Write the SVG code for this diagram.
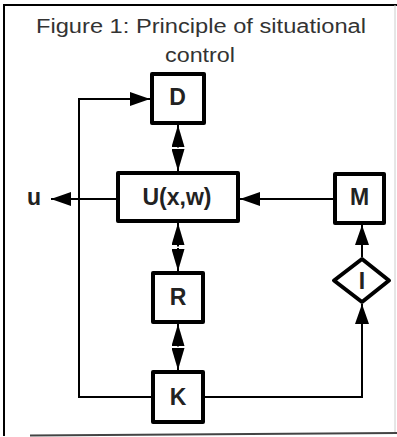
<svg xmlns="http://www.w3.org/2000/svg" width="397" height="437" viewBox="0 0 397 437">
<defs>
<style>
.box{fill:#fff;stroke:#000;stroke-width:4;stroke-linejoin:round}
.lbl{font-family:"Liberation Sans",Arial,sans-serif;font-weight:bold;font-size:23px;fill:#222;text-anchor:middle}
.title{font-family:"Liberation Sans",Arial,sans-serif;font-size:20px;fill:#333;text-anchor:middle}
.ln{fill:none;stroke:#000;stroke-width:2}
.ar{marker-end:url(#ah)}
.dbl{fill:none;stroke:#000;stroke-width:2;marker-end:url(#dh)}
</style>
<marker id="ah" viewBox="0 0 20 14" refX="20" refY="7" markerWidth="20" markerHeight="14" markerUnits="userSpaceOnUse" orient="auto">
<path d="M0,0 L20,7 L0,14 z" fill="#000"/>
</marker>
<marker id="dh" viewBox="0 0 22 13" refX="22" refY="6.5" markerWidth="22" markerHeight="13" markerUnits="userSpaceOnUse" orient="auto">
<path d="M0,0 L22,6.5 L0,13 z" fill="#000"/>
</marker>
</defs>
<rect x="0" y="0" width="397" height="437" fill="#fff"/>
<g id="frame">
<path d="M4,436 L4,5 L397,5" fill="none" stroke="#000" stroke-width="2"/>
<line x1="395" y1="5" x2="395" y2="433" stroke="#ccc" stroke-width="1"/>
<line x1="30" y1="435.5" x2="397" y2="433" stroke="#444" stroke-width="2"/>
</g>
<g id="title">
<text class="title" x="201" y="33" textLength="330" lengthAdjust="spacingAndGlyphs">Figure 1: Principle of situational</text>
<text class="title" x="200" y="62" textLength="70" lengthAdjust="spacingAndGlyphs">control</text>
</g>
<g id="connectors">
<path class="ln ar" d="M152,397 L79,397 L79,99 L150,99"/>
<path class="ln ar" d="M116,199 L51,199"/>
<path class="ln ar" d="M333,199 L240,199"/>
<path class="ln ar" d="M204,397 L362,397 L362,304"/>
<path class="ln ar" d="M362,257 L362,225"/>
<path class="dbl" d="M178,147.5 L178,125"/>
<path class="dbl" d="M178,149 L178,171"/>
<path class="dbl" d="M178,246.5 L178,223"/>
<path class="dbl" d="M178,248 L178,271"/>
<path class="dbl" d="M178,346.5 L178,324"/>
<path class="dbl" d="M178,348 L178,370"/>
</g>
<g id="D">
<rect class="box" x="152" y="74" width="52" height="49"/>
<text class="lbl" x="177.5" y="105">D</text>
</g>
<g id="U">
<rect class="box" x="118" y="173" width="120" height="48"/>
<text class="lbl" x="177" y="205">U(x,w)</text>
</g>
<g id="u">
<text class="lbl" x="34" y="205">u</text>
</g>
<g id="M">
<rect class="box" x="335" y="174" width="49" height="49"/>
<text class="lbl" x="359.5" y="205">M</text>
</g>
<g id="R">
<rect class="box" x="153" y="273" width="50" height="49"/>
<text class="lbl" x="178" y="305">R</text>
</g>
<g id="K">
<rect class="box" x="153" y="372" width="50" height="50"/>
<text class="lbl" x="178" y="405">K</text>
</g>
<g id="I">
<path class="box" d="M362,259 L389,280.5 L362,302 L334,280.5 z"/>
<text class="lbl" x="362" y="288.5">I</text>
</g>
</svg>
